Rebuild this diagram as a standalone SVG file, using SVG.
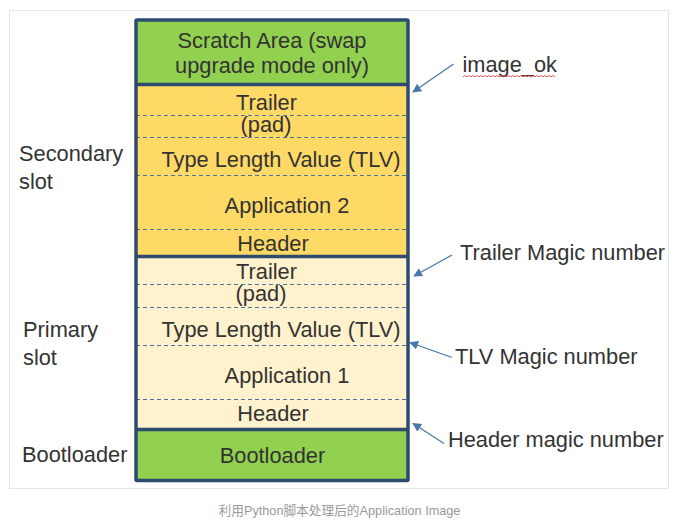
<svg xmlns="http://www.w3.org/2000/svg" width="679" height="530" viewBox="0 0 679 530">
<defs>
<style>
text{font-family:"Liberation Sans",Arial,sans-serif;font-size:21.8px;fill:#333333}
.c{text-anchor:middle}
.dash{stroke:#4f73a0;stroke-width:1;stroke-dasharray:4 3;fill:none}
.sep{stroke:#2d4a6f;stroke-width:3.5;fill:none}
.conn{stroke:#4a78aa;stroke-width:1.3;fill:none;marker-end:url(#ah)}
.cap{font-size:12.7px;fill:#9a9a9a;font-family:"Liberation Sans","Noto Sans CJK SC",sans-serif}
</style>
<marker id="ah" viewBox="0 0 10 10" refX="9" refY="5" markerWidth="9" markerHeight="9" markerUnits="userSpaceOnUse" orient="auto">
<path d="M0,0 L10,5 L0,10 z" fill="#4a78aa"/>
</marker>
</defs>
<rect x="0" y="0" width="679" height="530" fill="#ffffff"/>
<rect x="9.5" y="10.5" width="659" height="478" fill="#ffffff" stroke="#e6e6e6" stroke-width="1"/>

<g id="scratch">
<rect x="136" y="20" width="272" height="64" fill="#92d050"/>
<text class="c" x="272" y="48">Scratch Area (swap</text>
<text class="c" x="272" y="73">upgrade mode only)</text>
</g>

<g id="secondary-slot">
<rect x="136" y="85" width="272" height="171" fill="#ffd966"/>
<line class="dash" x1="136" y1="115.5" x2="408" y2="115.5"/>
<line class="dash" x1="136" y1="137.5" x2="408" y2="137.5"/>
<line class="dash" x1="136" y1="175.5" x2="408" y2="175.5"/>
<line class="dash" x1="136" y1="229.5" x2="408" y2="229.5"/>
<text class="c" x="266.5" y="110">Trailer</text>
<text class="c" x="266" y="132">(pad)</text>
<text class="c" x="281" y="167">Type Length Value (TLV)</text>
<text class="c" x="287" y="213">Application 2</text>
<text class="c" x="273" y="251">Header</text>
</g>

<g id="primary-slot">
<rect x="136" y="256" width="272" height="172" fill="#fff2cc"/>
<line class="dash" x1="136" y1="284.5" x2="408" y2="284.5"/>
<line class="dash" x1="136" y1="307.5" x2="408" y2="307.5"/>
<line class="dash" x1="136" y1="345.5" x2="408" y2="345.5"/>
<line class="dash" x1="136" y1="399.5" x2="408" y2="399.5"/>
<text class="c" x="266.5" y="279">Trailer</text>
<text class="c" x="261" y="301">(pad)</text>
<text class="c" x="281" y="337">Type Length Value (TLV)</text>
<text class="c" x="287" y="383">Application 1</text>
<text class="c" x="273" y="421">Header</text>
</g>

<g id="bootloader">
<rect x="136" y="430" width="272" height="50" fill="#92d050"/>
<text class="c" x="272.5" y="463">Bootloader</text>
</g>

<g id="frame">
<line class="sep" x1="136" y1="84.5" x2="408" y2="84.5"/>
<line class="sep" x1="136" y1="256.5" x2="408" y2="256.5"/>
<line class="sep" x1="136" y1="429.5" x2="408" y2="429.5"/>
<rect x="136" y="20" width="272" height="460.5" fill="none" stroke="#2d4a6f" stroke-width="3.5" rx="1"/>
</g>

<g id="left-labels">
<text x="19" y="161">Secondary</text>
<text x="19" y="189">slot</text>
<text x="23" y="337">Primary</text>
<text x="23" y="365">slot</text>
<text x="22" y="462">Bootloader</text>
</g>

<g id="right-labels">
<g id="label-image-ok">
<text x="462.5" y="72">image_ok</text>
<polyline points="463,77 465,75.5 467,77 469,75.5 471,77 473,75.5 475,77 477,75.5 479,77 481,75.5 483,77 485,75.5 487,77 489,75.5 491,77 493,75.5 495,77 497,75.5 499,77 501,75.5 503,77 505,75.5 507,77 509,75.5 511,77 513,75.5 515,77 517,75.5 519,77 521,75.5 523,77 525,75.5 527,77 529,75.5 531,77 533,75.5 535,77 537,75.5 539,77 541,75.5 543,77 545,75.5 547,77 549,75.5 551,77 553,75.5 555,77" fill="none" stroke="#e03030" stroke-width="0.8"/>
</g>
<text id="label-trailer-magic" x="460" y="260">Trailer Magic number</text>
<text id="label-tlv-magic" x="455" y="364">TLV Magic number</text>
<text id="label-header-magic" x="448" y="447">Header magic number</text>
</g>

<g id="connectors">
<line class="conn" x1="453.5" y1="64" x2="413" y2="92"/>
<line class="conn" x1="452" y1="255" x2="414" y2="276"/>
<line class="conn" x1="452" y1="357.5" x2="410" y2="342.5"/>
<line class="conn" x1="444" y1="443.5" x2="413" y2="423.5"/>
</g>

<text class="cap c" x="339.5" y="515">利用Python脚本处理后的Application Image</text>
</svg>
